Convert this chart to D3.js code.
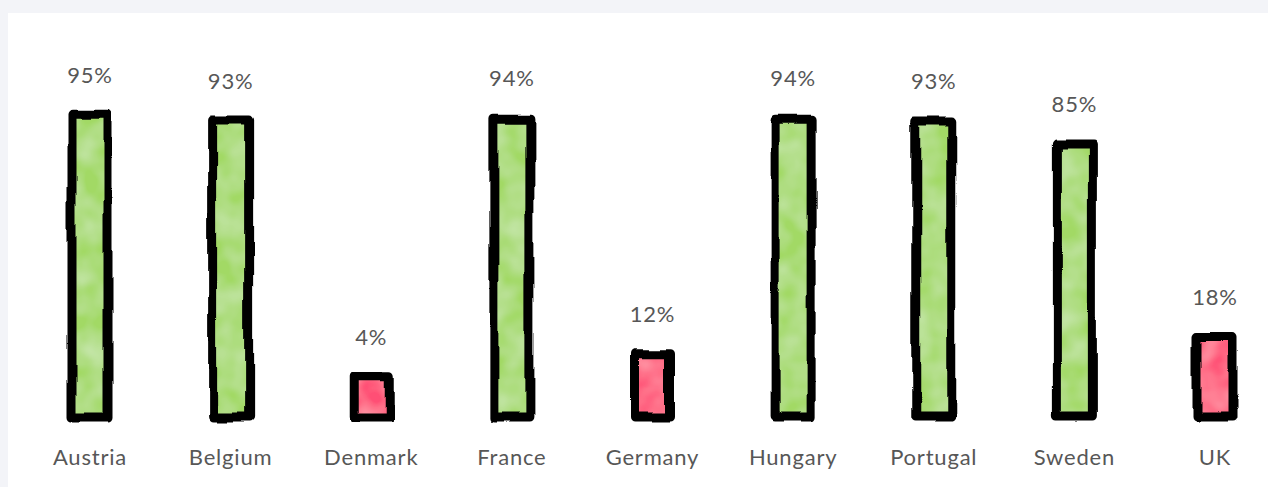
<!DOCTYPE html>
<html>
<head>
<meta charset="utf-8">
<script src="https://cdn.jsdelivr.net/npm/d3@7"></script>
<style>
    html, body { margin: 0; padding: 0; background: #f3f4f8; }
    #chart { position: absolute; left: 8px; top: 13px; }
    text { font-family: Lato, 'Open Sans', sans-serif; fill: #575757; letter-spacing: 0.8px; }
</style>
</head>
<body>
<div id="chart"></div>
<script>
'use strict';

const countries = ['Austria', 'Belgium', 'Denmark', 'France', 'Germany', 'Hungary', 'Portugal', 'Sweden', 'UK'];
const shares = [95, 93, 4, 94, 12, 94, 93, 85, 18];
const threshold = 50;

const width = 1260;
const height = 474;
const green = '#a2d965';
const red = '#ff5074';

const svg = d3.select('#chart')
    .append('svg')
    .attr('width', width)
    .attr('height', height);

svg.append('rect')
    .attr('width', width)
    .attr('height', height)
    .attr('fill', '#ffffff');

// hand drawn look: wobble the outlines and soften the edges
const defs = svg.append('defs');
const rough = defs.append('filter').attr('id', 'rough')
    .attr('x', '-20%').attr('y', '-10%').attr('width', '140%').attr('height', '120%');
rough.append('feTurbulence')
    .attr('type', 'fractalNoise')
    .attr('baseFrequency', '0.03 0.012')
    .attr('numOctaves', 2)
    .attr('seed', 3)
    .attr('result', 'noise');
rough.append('feDisplacementMap')
    .attr('in', 'SourceGraphic')
    .attr('in2', 'noise')
    .attr('scale', 8)
    .attr('xChannelSelector', 'R')
    .attr('yChannelSelector', 'G')
    .attr('result', 'moved');
rough.append('feGaussianBlur').attr('in', 'moved').attr('stdDeviation', 0.7);

const wash = defs.append('filter').attr('id', 'wash');
wash.append('feTurbulence')
    .attr('type', 'fractalNoise')
    .attr('baseFrequency', 0.04)
    .attr('numOctaves', 2)
    .attr('seed', 8)
    .attr('result', 'grain');
wash.append('feColorMatrix')
    .attr('in', 'grain')
    .attr('type', 'matrix')
    .attr('values', '0 0 0 0 1  0 0 0 0 1  0 0 0 0 1  0 0 0 0.45 -0.12')
    .attr('result', 'light');
wash.append('feComposite').attr('in', 'light').attr('in2', 'SourceGraphic').attr('operator', 'in').attr('result', 'spots');
wash.append('feMerge').selectAll('feMergeNode')
    .data(['SourceGraphic', 'spots'])
    .join('feMergeNode')
    .attr('in', d => d);

const x = d3.scalePoint()
    .domain(countries)
    .range([82, 1207]);

const y = d3.scaleLinear()
    .domain([-10, 100])
    .range([404, 88]);

const data = countries.map((c, i) => ({ country: c, value: shares[i] }));
const barWidth = 36;

const bars = svg.append('g')
    .selectAll('g')
    .data(data)
    .join('g');

bars.append('rect')
    .attr('x', d => x(d.country) - barWidth / 2)
    .attr('y', d => y(d.value))
    .attr('width', barWidth)
    .attr('height', d => y.range()[0] - y(d.value))
    .attr('fill', d => d.value >= threshold ? green : red)
    .attr('filter', 'url(#wash)');

bars.append('rect')
    .attr('x', d => x(d.country) - barWidth / 2)
    .attr('y', d => y(d.value))
    .attr('width', barWidth)
    .attr('height', d => y.range()[0] - y(d.value))
    .attr('fill', 'none')
    .attr('stroke', '#000')
    .attr('stroke-width', 9)
    .attr('stroke-linejoin', 'round')
    .attr('filter', 'url(#rough)');

bars.append('text')
    .attr('x', d => x(d.country))
    .attr('y', d => Math.max(67, y(d.value) - 32))
    .attr('text-anchor', 'middle')
    .attr('font-size', 22)
    .text(d => d.value + '%');

bars.append('text')
    .attr('x', d => x(d.country))
    .attr('y', 452)
    .attr('text-anchor', 'middle')
    .attr('font-size', 22)
    .text(d => d.country);
</script>
</body>
</html>
